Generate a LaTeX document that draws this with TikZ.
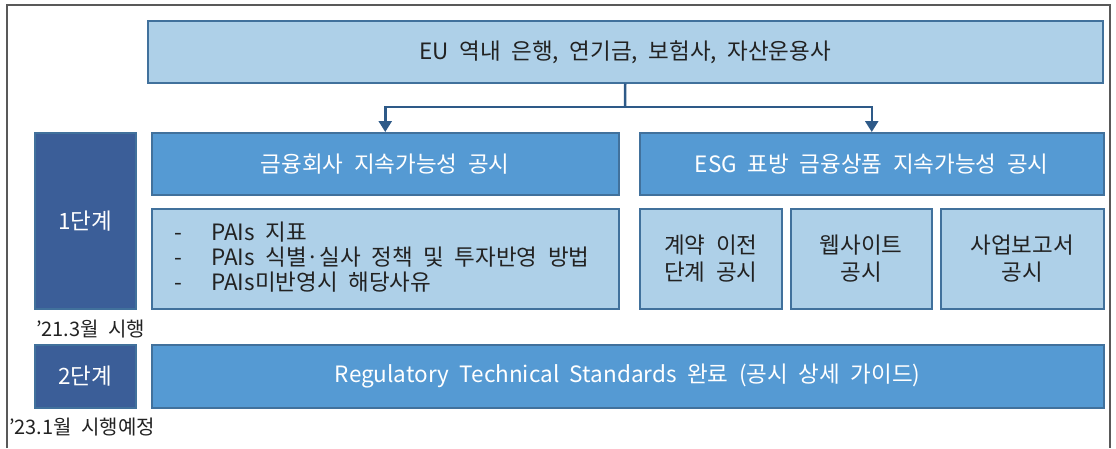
\documentclass[tikz,border=0pt]{standalone}
\usepackage{fontspec}
\setmainfont{Noto Sans CJK KR}[WordSpace=2.1]
\usetikzlibrary{arrows.meta}
\definecolor{dkblue}{HTML}{3B5E98}
\definecolor{mdblue}{HTML}{559AD3}
\definecolor{ltblue}{HTML}{AED0E8}
\definecolor{edge}{HTML}{41719C}
\definecolor{arr}{HTML}{2E5A88}
\definecolor{frame}{HTML}{595959}
\definecolor{ink}{HTML}{222222}
\tikzset{
  base/.style={draw=edge, line width=1.5pt, inner sep=0pt, anchor=north west, align=center, font=\fontsize{22.5}{27}\selectfont},
  lvl/.style={base, fill=dkblue, text=white},
  head/.style={base, fill=mdblue, text=white},
  sub/.style={base, fill=ltblue, text=ink},
  note/.style={inner sep=0pt, anchor=base west, text=ink, font=\fontsize{20}{23}\selectfont},
  item/.style={inner sep=0pt, anchor=base west, text=ink, font=\fontsize{22.5}{26}\selectfont},
  conn/.style={draw=arr, line width=2.5pt, -{Triangle[length=11pt,width=13pt]}},
}
\begin{document}
\begin{tikzpicture}[x=1pt,y=-1pt]
\useasboundingbox (0,0) rectangle (1116,448);
\draw[frame, line width=2pt] (7,448) -- (7,5) -- (1110,5) -- (1110,448);
% top
\node[sub, minimum width=955pt, minimum height=62pt] (top) at (147,20) {EU 역내 은행, 연기금, 보험사, 자산운용사};
% level boxes
\node[lvl, minimum width=101pt, minimum height=176pt] (l1) at (34,132) {1단계};
\node[lvl, minimum width=101pt, minimum height=63pt] (l2) at (34,344) {2단계};
% heads
\node[head, minimum width=467pt, minimum height=62pt] (fin) at (151,132) {금융회사 지속가능성 공시};
\node[head, minimum width=464pt, minimum height=62pt] (esg) at (639,132) {ESG 표방 금융상품 지속가능성 공시};
% PAIs
\node[sub, minimum width=467pt, minimum height=100pt] (pai) at (151,208) {};
\node[item] (d1) at (174,240) {-};
\node[item] (t1) at (211,240) {PAIs 지표};
\node[item] (d2) at (174,265) {-};
\node[item] (t2) at (211,265) {PAIs 식별·실사 정책 및 투자반영 방법};
\node[item] (d3) at (174,290) {-};
\node[item] (t3) at (211,290) {PAIs미반영시 해당사유};
% sub boxes
\node[sub, minimum width=142pt, minimum height=100pt] (s1) at (639,208) {계약 이전\\단계 공시};
\node[sub, minimum width=141pt, minimum height=100pt] (s2) at (790,208) {웹사이트\\공시};
\node[sub, minimum width=163pt, minimum height=100pt] (s3) at (940,208) {사업보고서\\공시};
% RTS
\node[head, minimum width=952pt, minimum height=63pt] (rts) at (151,344) {Regulatory Technical Standards 완료 (공시 상세 가이드)};
% notes
\node[note] (n1) at (36,336) {'21.3월 시행};
\node[note] (n2) at (9,434) {'23.1월 시행예정};
% connectors
\coordinate (split) at (625,107);
\draw[draw=arr, line width=2.5pt] (top.south) -- (split);
\draw[conn] (split) -| (fin.north);
\draw[conn] (split) -| (esg.north);
\end{tikzpicture}
\end{document}
